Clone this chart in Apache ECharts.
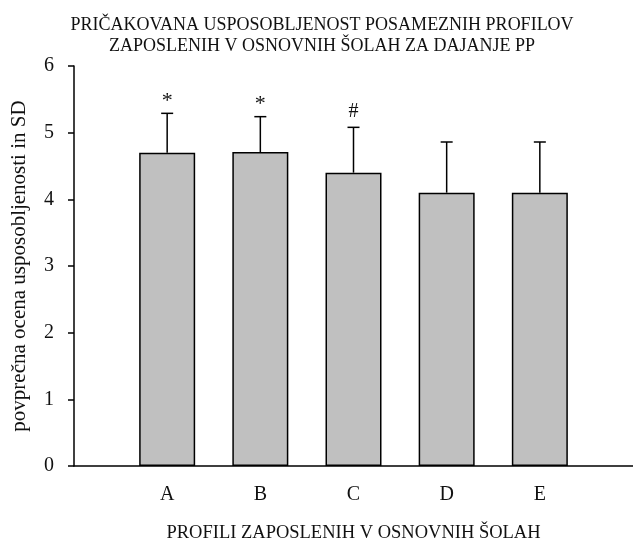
<!DOCTYPE html>
<html>
<head>
<meta charset="utf-8">
<script src="https://cdn.jsdelivr.net/npm/echarts@6/dist/echarts.min.js"></script>
<style>html,body{margin:0;padding:0;background:#fff;}#c{width:633px;height:542px;}</style>
</head>
<body>
<div id="c"></div>
<script>
var categories = ['A', 'B', 'C', 'D', 'E'];
var means = [4.70, 4.71, 4.40, 4.10, 4.10];
var sds = [0.59, 0.53, 0.68, 0.76, 0.76];
var marks = ['*', '*', '#', '', ''];
var yTicks = [0, 1, 2, 3, 4, 5, 6];

var FONT = '"Liberation Serif", "DejaVu Serif", serif';
var barData = categories.map(function (c, i) { return [i + 1, means[i]]; });
var errData = categories.map(function (c, i) { return [i + 1, means[i], sds[i], marks[i]]; });

var chart = echarts.init(document.getElementById('c'));
chart.setOption({
  backgroundColor: '#fff',
  animation: false,
  title: {
    text: 'PRIČAKOVANA USPOSOBLJENOST POSAMEZNIH PROFILOV\nZAPOSLENIH V OSNOVNIH ŠOLAH ZA DAJANJE PP',
    left: 317,
    textAlign: 'center',
    top: 10,
    textStyle: { fontFamily: FONT, fontSize: 18, fontWeight: 'normal', color: '#111', lineHeight: 21 }
  },
  grid: { left: 74, right: 0, top: 66, bottom: 76, outerBoundsMode: 'none' },
  xAxis: {
    type: 'value',
    min: 0,
    max: 6,
    interval: 1,
    splitLine: { show: false },
    axisTick: { show: false },
    axisLine: { show: true, lineStyle: { color: '#000', width: 1.5 } },
    axisLabel: {
      margin: 19,
      fontFamily: FONT, fontSize: 20, color: '#111',
      formatter: function (v) { return categories[v - 1] || ''; }
    },
    name: 'PROFILI ZAPOSLENIH V OSNOVNIH ŠOLAH',
    nameLocation: 'middle',
    nameGap: 58,
    nameTextStyle: { fontFamily: FONT, fontSize: 18.5, color: '#111' }
  },
  yAxis: {
    type: 'value',
    min: yTicks[0],
    max: yTicks[yTicks.length - 1],
    interval: 1,
    splitLine: { show: false },
    axisLine: { show: true, lineStyle: { color: '#000', width: 1.5 } },
    axisTick: { show: true, length: 6, lineStyle: { color: '#000', width: 1.5 } },
    axisLabel: { margin: 20, fontFamily: FONT, fontSize: 20, color: '#111' },
    name: 'povprečna ocena usposobljenosti in SD',
    nameLocation: 'middle',
    nameGap: 44,
    nameTextStyle: { fontFamily: FONT, fontSize: 21, color: '#111' }
  },
  series: [
    {
      type: 'bar',
      data: barData,
      barWidth: 56,
      itemStyle: { color: '#c0c0c0', borderColor: '#000', borderWidth: 1.5 },
      z: 2
    },
    {
      type: 'custom',
      data: errData,
      z: 3,
      renderItem: function (params, api) {
        var x = api.value(0), m = api.value(1), s = api.value(2);
        var mk = errData[params.dataIndex][3];
        var p0 = api.coord([x, m]);
        var p1 = api.coord([x, m + s]);
        var style = { stroke: '#000', lineWidth: 1.5 };
        var children = [
          { type: 'line', shape: { x1: p0[0], y1: p0[1], x2: p1[0], y2: p1[1] }, style: style },
          { type: 'line', shape: { x1: p1[0] - 6, y1: p1[1], x2: p1[0] + 6, y2: p1[1] }, style: style }
        ];
        if (mk) {
          children.push({
            type: 'text',
            style: {
              text: mk, x: p1[0], y: p1[1] - (mk === '*' ? 12 : 16),
              align: 'center', verticalAlign: 'middle',
              font: (mk === '*' ? '22px ' : '20px ') + FONT, fill: '#111'
            }
          });
        }
        return { type: 'group', children: children };
      }
    }
  ]
});
</script>
</body>
</html>
